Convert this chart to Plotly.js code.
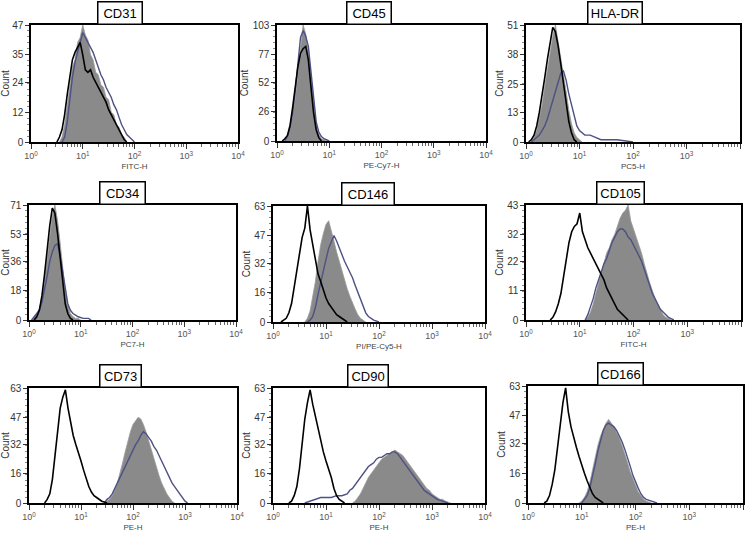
<!DOCTYPE html>
<html>
<head>
<meta charset="utf-8">
<script src="https://cdn.plot.ly/plotly-3.0.1.min.js"></script>
<style>html,body{margin:0;padding:0;background:#fff;}#chart{width:746px;height:535px;}</style>
</head>
<body>
<div id="chart"></div>
<script>
// ---------- DATA (x as log10 channel position, y as count) ----------
const titles = ['CD31','CD45','HLA-DR','CD34','CD146','CD105','CD73','CD90','CD166'];
const xTitles = ['FITC-H','PE-Cy7-H','PC5-H','PC7-H','PI/PE-Cy5-H','FITC-H','PE-H','PE-H','PE-H'];
const yTicks = [[0,12,24,35,47],[0,26,52,77,103],[0,13,25,38,51],[0,18,36,53,71],[0,16,32,47,63],[0,11,22,32,43],[0,16,32,47,63],[0,16,32,47,63],[0,16,32,47,63]];
const xTickVals = [1,10,100,1000,10000];
const xTickText = ['10<sup>0</sup>','10<sup>1</sup>','10<sup>2</sup>','10<sup>3</sup>','10<sup>4</sup>'];

const cd31Gray = [[0.55,0],[0.6,2],[0.65,7],[0.7,15],[0.75,21],[0.8,30],[0.85,33],[0.9,40],[0.95,42],[1.0,47],[1.05,43],[1.1,41],[1.15,35],[1.2,33],[1.25,28],[1.3,27],[1.35,23],[1.4,22],[1.45,18],[1.5,17],[1.55,12],[1.6,11],[1.65,7],[1.7,6],[1.75,3],[1.8,2],[1.85,0]];
const cd31Blue = [[0.6,0],[0.65,2],[0.7,8],[0.75,17],[0.8,26],[0.85,32],[0.9,36],[0.95,40],[1.0,44],[1.05,42],[1.1,40],[1.15,38],[1.2,36],[1.25,33],[1.3,30],[1.35,27],[1.4,25],[1.45,22],[1.5,20],[1.55,18],[1.6,15],[1.65,13],[1.7,10],[1.75,7],[1.8,5],[1.85,3],[1.9,2],[1.95,1],[2.0,0]];
const cd31Black = [[0.5,0],[0.55,2],[0.6,5],[0.65,11],[0.7,19],[0.75,27],[0.8,33],[0.85,36],[0.9,38],[0.95,40],[1.0,35],[1.05,29],[1.1,28],[1.15,29],[1.2,26],[1.25,24],[1.3,22],[1.35,20],[1.4,18],[1.45,16],[1.5,13],[1.55,11],[1.6,9],[1.65,7],[1.7,5],[1.75,3],[1.8,1],[1.85,0]];

const cd45Gray = [[0.15,0],[0.2,3],[0.25,10],[0.3,22],[0.35,38],[0.4,60],[0.45,82],[0.5,103],[0.55,95],[0.6,78],[0.65,55],[0.7,32],[0.75,15],[0.8,6],[0.85,2],[0.9,1],[0.95,0]];
const cd45Blue = [[0.15,0],[0.2,4],[0.25,12],[0.3,25],[0.35,45],[0.4,70],[0.45,92],[0.5,98],[0.55,93],[0.6,84],[0.65,60],[0.7,35],[0.75,17],[0.8,8],[0.85,4],[0.9,2],[0.95,1],[1.0,0]];
const cd45Black = [[0.1,0],[0.15,2],[0.2,5],[0.25,14],[0.3,30],[0.35,48],[0.4,66],[0.45,78],[0.5,82],[0.55,84],[0.6,72],[0.65,48],[0.7,25],[0.75,10],[0.8,3],[0.85,0]];

const hlaGray = [[0.1,0],[0.15,2],[0.2,5],[0.25,10],[0.3,16],[0.35,24],[0.4,32],[0.45,40],[0.5,46],[0.55,51],[0.6,44],[0.65,37],[0.7,30],[0.75,22],[0.8,14],[0.85,8],[0.9,4],[0.95,2],[1.0,1],[1.05,0]];
const hlaBlue = [[0.1,0],[0.15,1],[0.2,2],[0.25,3],[0.3,5],[0.35,7],[0.4,10],[0.45,14],[0.5,18],[0.55,23],[0.6,27],[0.65,30],[0.7,31],[0.75,27],[0.8,21],[0.85,16],[0.9,11],[0.95,7],[1.0,5],[1.05,4],[1.1,3],[1.2,3],[1.3,2],[1.4,1],[1.5,1],[1.7,1],[2.0,0]];
const hlaBlack = [[0.05,0],[0.1,1],[0.15,3],[0.2,7],[0.25,13],[0.3,20],[0.35,28],[0.4,36],[0.45,44],[0.5,50],[0.55,48],[0.6,42],[0.65,34],[0.7,25],[0.75,17],[0.8,9],[0.85,4],[0.9,1],[0.95,0]];

const cd34Gray = [[0.05,0],[0.1,2],[0.15,4],[0.2,7],[0.25,14],[0.3,24],[0.35,38],[0.4,52],[0.45,64],[0.5,71],[0.55,62],[0.6,48],[0.65,32],[0.7,18],[0.75,9],[0.8,4],[0.85,2],[0.9,1],[0.95,1],[1.0,0]];
const cd34Blue = [[0.05,0],[0.1,2],[0.15,4],[0.2,6],[0.25,11],[0.3,18],[0.35,27],[0.4,36],[0.45,42],[0.5,46],[0.55,47],[0.6,40],[0.65,29],[0.7,18],[0.75,10],[0.8,6],[0.85,4],[0.9,3],[0.95,2],[1.05,1],[1.15,1],[1.2,0]];
const cd34Black = [[0.1,0],[0.15,2],[0.2,6],[0.25,15],[0.3,28],[0.35,44],[0.4,58],[0.45,69],[0.5,66],[0.55,54],[0.6,38],[0.65,22],[0.7,10],[0.75,4],[0.8,1],[0.85,0]];

const cd146Gray = [[0.6,0],[0.65,2],[0.7,6],[0.75,13],[0.8,22],[0.85,33],[0.9,42],[0.95,48],[1.0,53],[1.05,55],[1.1,50],[1.15,44],[1.2,38],[1.25,33],[1.3,27],[1.35,22],[1.4,18],[1.45,14],[1.5,10],[1.55,7],[1.6,4],[1.65,2],[1.7,1],[1.75,0]];
const cd146Blue = [[0.65,0],[0.7,1],[0.75,3],[0.8,8],[0.85,15],[0.9,22],[0.95,28],[1.0,34],[1.05,40],[1.1,44],[1.15,47],[1.2,44],[1.25,40],[1.3,36],[1.35,33],[1.4,30],[1.45,27],[1.5,24],[1.55,20],[1.6,16],[1.65,12],[1.7,8],[1.75,5],[1.8,3],[1.85,2],[1.9,1],[2.0,0]];
const cd146Black = [[0.15,0],[0.2,1],[0.25,2],[0.3,5],[0.35,10],[0.4,19],[0.45,28],[0.5,38],[0.55,46],[0.6,51],[0.65,63],[0.7,50],[0.75,42],[0.8,33],[0.85,26],[0.9,22],[0.95,17],[1.0,13],[1.05,10],[1.1,8],[1.15,6],[1.2,4],[1.25,3],[1.3,2],[1.35,1],[1.4,0]];

const cd105Gray = [[1.1,0],[1.15,1],[1.2,3],[1.25,6],[1.3,10],[1.35,14],[1.4,18],[1.45,22],[1.5,25],[1.55,27],[1.6,30],[1.65,32],[1.7,35],[1.75,38],[1.8,40],[1.85,41],[1.9,43],[1.95,37],[2.0,34],[2.05,31],[2.1,28],[2.15,25],[2.2,21],[2.25,17],[2.3,14],[2.35,11],[2.4,8],[2.45,6],[2.5,4],[2.55,2],[2.6,1],[2.7,0]];
const cd105Blue = [[1.1,0],[1.15,2],[1.2,5],[1.25,8],[1.3,12],[1.35,15],[1.4,18],[1.45,21],[1.5,23],[1.55,26],[1.6,29],[1.65,31],[1.7,33],[1.75,34],[1.8,34],[1.85,33],[1.9,31],[1.95,30],[2.0,28],[2.05,26],[2.1,24],[2.15,22],[2.2,19],[2.25,16],[2.3,13],[2.35,10],[2.4,8],[2.45,6],[2.5,4],[2.55,3],[2.6,2],[2.65,1],[2.75,0]];
const cd105Black = [[0.45,0],[0.5,1],[0.55,3],[0.6,6],[0.65,10],[0.7,16],[0.75,23],[0.8,29],[0.85,33],[0.9,35],[0.95,36],[1.0,40],[1.05,33],[1.1,30],[1.15,27],[1.2,25],[1.25,23],[1.3,21],[1.35,19],[1.4,17],[1.45,15],[1.5,12],[1.55,10],[1.6,8],[1.65,6],[1.7,4],[1.75,3],[1.8,2],[1.85,1],[1.9,0]];

const cd73Gray = [[1.45,0],[1.5,1],[1.55,2],[1.6,4],[1.65,7],[1.7,11],[1.75,16],[1.8,22],[1.85,28],[1.9,34],[1.95,39],[2.0,43],[2.05,45],[2.1,47],[2.15,46],[2.2,43],[2.25,39],[2.3,34],[2.35,29],[2.4,24],[2.45,19],[2.5,15],[2.55,11],[2.6,8],[2.65,5],[2.7,3],[2.75,1],[2.8,0]];
const cd73Blue = [[1.45,0],[1.5,2],[1.55,3],[1.6,5],[1.65,8],[1.7,11],[1.75,14],[1.8,17],[1.85,20],[1.9,23],[1.95,26],[2.0,29],[2.05,32],[2.1,34],[2.15,37],[2.2,39],[2.25,38],[2.3,36],[2.35,34],[2.4,31],[2.45,29],[2.5,26],[2.55,23],[2.6,20],[2.65,17],[2.7,14],[2.75,11],[2.8,9],[2.85,7],[2.9,5],[2.95,3],[3.0,1],[3.05,0]];
const cd73Black = [[0.3,0],[0.35,2],[0.4,5],[0.45,13],[0.5,26],[0.55,40],[0.6,52],[0.65,58],[0.7,62],[0.75,52],[0.8,44],[0.85,37],[0.9,32],[0.95,28],[1.0,23],[1.05,18],[1.1,13],[1.15,9],[1.2,6],[1.25,4],[1.3,3],[1.35,2],[1.4,1],[1.5,0]];

const cd90Gray = [[1.5,0],[1.55,1],[1.6,3],[1.65,5],[1.7,8],[1.75,11],[1.8,14],[1.85,16],[1.9,18],[1.95,20],[2.0,22],[2.05,24],[2.1,25],[2.15,26],[2.2,27],[2.25,28],[2.3,29],[2.35,28],[2.4,27],[2.45,26],[2.5,24],[2.55,22],[2.6,20],[2.65,18],[2.7,16],[2.75,14],[2.8,12],[2.85,10],[2.9,8],[2.95,7],[3.0,5],[3.05,4],[3.1,3],[3.15,2],[3.2,2],[3.25,1],[3.35,0]];
const cd90Blue = [[0.6,0],[0.7,1],[0.8,2],[0.9,3],[1.0,3],[1.1,3],[1.2,4],[1.3,4],[1.4,5],[1.45,7],[1.5,8],[1.55,10],[1.6,12],[1.65,14],[1.7,16],[1.75,18],[1.8,20],[1.85,21],[1.9,22],[1.95,24],[2.0,25],[2.05,25],[2.1,26],[2.15,27],[2.2,27],[2.25,28],[2.3,28],[2.35,27],[2.4,25],[2.45,23],[2.5,21],[2.55,19],[2.6,17],[2.65,15],[2.7,13],[2.75,11],[2.8,9],[2.85,7],[2.9,6],[2.95,5],[3.0,4],[3.05,3],[3.1,2],[3.2,1],[3.3,0]];
const cd90Black = [[0.3,0],[0.35,1],[0.4,4],[0.45,9],[0.5,19],[0.55,33],[0.6,46],[0.65,55],[0.7,62],[0.75,54],[0.8,47],[0.85,40],[0.9,34],[0.95,28],[1.0,23],[1.05,19],[1.1,14],[1.15,8],[1.2,4],[1.25,2],[1.3,1],[1.35,0]];

const cd166Gray = [[0.95,0],[1.0,1],[1.05,3],[1.1,6],[1.15,11],[1.2,18],[1.25,25],[1.3,31],[1.35,36],[1.4,40],[1.45,43],[1.5,45],[1.55,43],[1.6,41],[1.65,38],[1.7,35],[1.75,31],[1.8,27],[1.85,22],[1.9,17],[1.95,13],[2.0,9],[2.05,6],[2.1,4],[2.15,2],[2.2,1],[2.3,0]];
const cd166Blue = [[1.0,0],[1.05,2],[1.1,4],[1.15,8],[1.2,14],[1.25,21],[1.3,28],[1.35,34],[1.4,39],[1.45,42],[1.5,43],[1.55,42],[1.6,41],[1.65,39],[1.7,36],[1.75,33],[1.8,29],[1.85,25],[1.9,20],[1.95,15],[2.0,11],[2.05,8],[2.1,5],[2.15,3],[2.2,2],[2.3,1],[2.4,0]];
const cd166Black = [[0.3,0],[0.35,1],[0.4,4],[0.45,10],[0.5,18],[0.55,30],[0.6,43],[0.65,54],[0.7,62],[0.75,49],[0.8,41],[0.85,35],[0.9,30],[0.95,25],[1.0,20],[1.05,16],[1.1,12],[1.15,8],[1.2,5],[1.25,3],[1.3,2],[1.35,1],[1.4,0]];

const panelSeries = [
  [cd31Gray, cd31Blue, cd31Black],
  [cd45Gray, cd45Blue, cd45Black],
  [hlaGray, hlaBlue, hlaBlack],
  [cd34Gray, cd34Blue, cd34Black],
  [cd146Gray, cd146Blue, cd146Black],
  [cd105Gray, cd105Blue, cd105Black],
  [cd73Gray, cd73Blue, cd73Black],
  [cd90Gray, cd90Blue, cd90Black],
  [cd166Gray, cd166Blue, cd166Black]
];

// ---------- LAYOUT (pixel boxes of each plot area) ----------
const W = 746, H = 535;
const boxes = [
  [31,238,25,142],[277,486,25,141],[526,740,25,142],
  [29,236,205,320],[273,485,206,322],[526,741,205,320],
  [29,237,388,503],[273,485,388,503],[528,743,386,503]
];
const titleBoxes = [ // centre x, bottom y, width
  [120,25,46],[369,25,46],[615,25,56],
  [122,205,47],[368,206,54],[620,205,49],
  [120,388,43],[368,388,42],[620,386,47]
];

const minorX = [];
[1,10,100,1000].forEach(d => { for (let k = 2; k <= 9; k++) minorX.push(d*k); });

const FONT = 'Liberation Sans, Arial, sans-serif';
const traces = [];
const layout = {
  width: W, height: H,
  margin: {l:0, r:0, t:0, b:0},
  paper_bgcolor: '#fff', plot_bgcolor: '#fff',
  showlegend: false,
  annotations: []
};

const styles = [
  {line:{color:'#999999', width:0.8}, fill:'tozeroy', fillcolor:'#8a8a8a'},
  {line:{color:'#4d5183', width:1.4}},
  {line:{color:'#000000', width:1.6}}
];

for (let i = 0; i < 9; i++) {
  const n = i === 0 ? '' : String(i+1);
  const [x0,x1,y0,y1] = boxes[i];
  const yMax = yTicks[i][yTicks[i].length-1];
  panelSeries[i].forEach((s, j) => {
    traces.push(Object.assign({
      type: 'scatter', mode: 'lines',
      x: s.map(p => Math.pow(10, p[0])),
      y: s.map(p => p[1]),
      xaxis: 'x' + n, yaxis: 'y' + n,
      hoverinfo: 'skip'
    }, JSON.parse(JSON.stringify(styles[j]))));
  });
  layout['xaxis' + n] = {
    domain: [x0/W, x1/W], anchor: 'y' + n,
    type: 'log', range: [0, 4],
    tickmode: 'array', tickvals: xTickVals, ticktext: xTickText,
    ticks: 'outside', ticklen: 5, tickwidth: 1, tickcolor: '#333',
    tickfont: {family: FONT, size: 9, color: '#555'},
    minor: {tickmode: 'array', tickvals: minorX, ticks: 'outside', ticklen: 3, tickwidth: 1, tickcolor: '#666', showgrid: false},
    showline: true, mirror: true, linecolor: '#000', linewidth: 1.6,
    showgrid: false, zeroline: false,
    title: {text: xTitles[i], font: {family: FONT, size: 8, color: '#444'}, standoff: 3}
  };
  layout['yaxis' + n] = {
    domain: [1 - y1/H, 1 - y0/H], anchor: 'x' + n,
    range: [0, yMax],
    tickmode: 'array', tickvals: yTicks[i],
    ticks: 'outside', ticklen: 4, tickwidth: 1, tickcolor: '#333',
    tickfont: {family: FONT, size: 10, color: '#333'},
    minor: {tickmode: 'linear', tick0: 0, dtick: yMax/20, ticks: 'outside', ticklen: 2, tickwidth: 1, tickcolor: '#888', showgrid: false},
    showline: true, mirror: true, linecolor: '#000', linewidth: 1.6,
    showgrid: false, zeroline: false,
    title: {text: 'Count', font: {family: FONT, size: 10, color: '#333'}, standoff: 2}
  };
  const [cx, by, bw] = titleBoxes[i];
  layout.annotations.push({
    text: titles[i], xref: 'paper', yref: 'paper',
    x: cx/W, y: 1 - by/H, xanchor: 'center', yanchor: 'bottom',
    showarrow: false, bgcolor: '#fff', bordercolor: '#000', borderwidth: 1.5, borderpad: 1,
    width: bw - 5, height: 19,
    font: {family: FONT, size: 13, color: '#000'}
  });
}

Plotly.newPlot('chart', traces, layout, {displayModeBar: false, staticPlot: true});
</script>
</body>
</html>
